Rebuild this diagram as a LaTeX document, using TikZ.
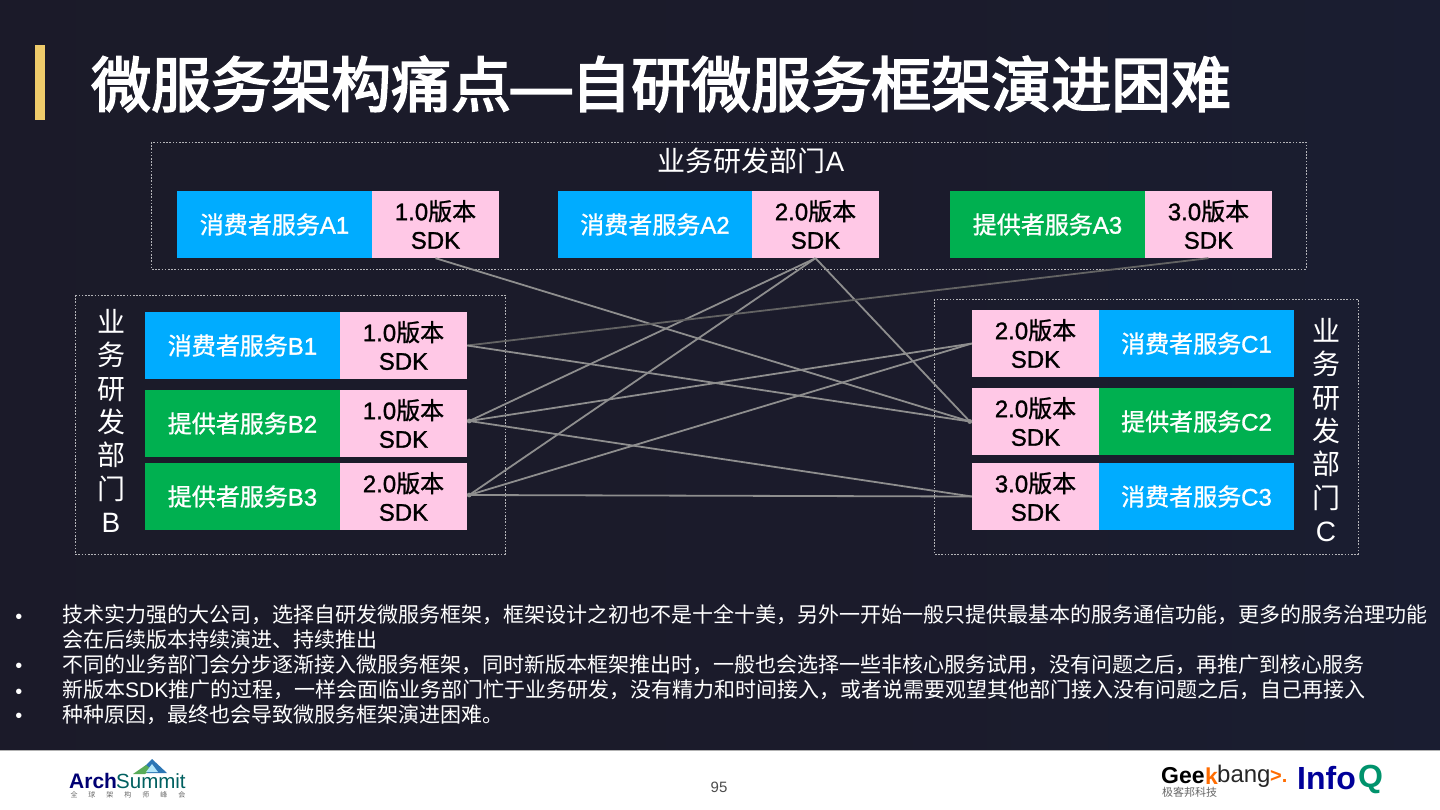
\documentclass[tikz,border=0pt]{standalone}
\usepackage{fontspec}
\setmainfont{Liberation Sans}
\newfontfamily\cjk{Noto Sans CJK SC}
\newfontfamily\cjkm{Noto Sans CJK SC}[FakeBold=3]
\newfontfamily\lattitle{Liberation Sans}[FakeBold=3]
\newfontfamily\cjks{Noto Sans CJK SC}[FakeBold=1]
\newfontfamily\lats{Liberation Sans}[FakeBold=1.2]
\usetikzlibrary{arrows.meta,calc}
\definecolor{bgl}{HTML}{1B1A27}
\definecolor{bgm}{HTML}{1B1B2B}
\definecolor{bgn}{HTML}{1A1D30}
\definecolor{bgr}{HTML}{191C3A}
\definecolor{blueb}{HTML}{00ACFF}
\definecolor{greenb}{HTML}{00B050}
\definecolor{pinkb}{HTML}{FFC8E6}
\definecolor{goldb}{HTML}{EFCB6B}
\definecolor{linec}{HTML}{8E8E8E}
\definecolor{dashc}{HTML}{B4B4B8}
\pgfdeclarehorizontalshading{bgshade}{100bp}{color(0bp)=(bgl); color(55bp)=(bgm); color(72bp)=(bgn); color(100bp)=(bgr)}
\tikzset{
 x=1pt,y=-1pt,
 svc/.style={minimum width=195pt,minimum height=67pt,inner sep=0pt,text=white,font=\fontsize{24}{27}\selectfont\lats},
 svcb/.style={svc,fill=blueb},
 svcg/.style={svc,fill=greenb},
 sdk/.style={minimum width=127pt,minimum height=67pt,inner sep=0pt,fill=pinkb,text=black,align=center,font=\fontsize{24}{28.5}\selectfont\lats},
 group/.style={draw=dashc,line width=0.6pt,dash pattern=on 1.6pt off 1.6pt,inner sep=0pt},
 link/.style={draw=linec,line width=1.8pt},
 faint/.style={link,draw=linec!70!black},
 tip/.style={fill=linec,draw=none},
 gtxt/.style={text=white,inner sep=0pt,font=\fontsize{28}{33.4}\selectfont},
 bullettxt/.style={text=white,anchor=west,inner sep=0pt,font=\fontsize{21}{24}\selectfont},
 bulletdot/.style={text=white,inner sep=0pt,font=\fontsize{20}{20}\selectfont}
}
\newcommand{\zh}[1]{{\cjks #1}}
\newcommand{\zg}[1]{{\cjk #1}}
\begin{document}
\begin{tikzpicture}
\useasboundingbox (0,0) rectangle (1440,810);
\path[shading=bgshade] (0,0) rectangle (1440,750);
\fill[white] (0,750) rectangle (1440,810);
\fill[gray!60] (0,749.5) rectangle (1440,751);
\fill[goldb] (35,45) rectangle (45,120);
\node[anchor=west,text=white,inner sep=0pt,font=\fontsize{60}{66}\selectfont\cjkm] (title) at (91,84) {微服务架构痛点{\lattitle —}自研微服务框架演进困难};

% groups
\path[group] (151,142) rectangle (1306,269);
\path[group] (75,295) rectangle (505,554);
\path[group] (934,299) rectangle (1358,554);
\node[gtxt] (ga) at (751,161) {\zg{业务研发部门}A};
\node[gtxt,align=center] (gb) at (111,421) {\zg{业}\\\zg{务}\\\zg{研}\\\zg{发}\\\zg{部}\\\zg{门}\\B};
\node[gtxt,align=center] (gc) at (1326,430) {\zg{业}\\\zg{务}\\\zg{研}\\\zg{发}\\\zg{部}\\\zg{门}\\C};

% A row
\node[svcb] (a1) at (274.5,224.5) {\zh{消费者服务}A1};
\node[sdk] (sa1) at (435.5,224.5) {1.0\zh{版本}\\SDK};
\node[svcb] (a2) at (655,224.5) {\zh{消费者服务}A2};
\node[sdk] (sa2) at (815.5,224.5) {2.0\zh{版本}\\SDK};
\node[svcg] (a3) at (1047.5,224.5) {\zh{提供者服务}A3};
\node[sdk] (sa3) at (1208.5,224.5) {3.0\zh{版本}\\SDK};
% B column
\node[svcb] (b1) at (242.5,345.5) {\zh{消费者服务}B1};
\node[sdk] (sb1) at (403.5,345.5) {1.0\zh{版本}\\SDK};
\node[svcg] (b2) at (242.5,423.5) {\zh{提供者服务}B2};
\node[sdk] (sb2) at (403.5,423.5) {1.0\zh{版本}\\SDK};
\node[svcg] (b3) at (242.5,496.5) {\zh{提供者服务}B3};
\node[sdk] (sb3) at (403.5,496.5) {2.0\zh{版本}\\SDK};
% C column
\node[sdk] (sc1) at (1035.5,343.5) {2.0\zh{版本}\\SDK};
\node[svcb] (c1) at (1196.5,343.5) {\zh{消费者服务}C1};
\node[sdk] (sc2) at (1035.5,421.5) {2.0\zh{版本}\\SDK};
\node[svcg] (c2) at (1196.5,421.5) {\zh{提供者服务}C2};
\node[sdk] (sc3) at (1035.5,496.5) {3.0\zh{版本}\\SDK};
\node[svcb] (c3) at (1196.5,496.5) {\zh{消费者服务}C3};

% connectors
\coordinate (pb2) at ($(sb2.east)+(2,-2.5)$);
\coordinate (pb3) at ($(sb3.east)+(2,-1.5)$);
\coordinate (pc2) at ($(sc2.west)+(-2,0)$);
\draw[link] (sa1.south) -- (pc2);
\draw[link] (sa2.south) -- (pb2);
\draw[link] (sa2.south) -- (pb3);
\draw[link] (sa2.south) -- (pc2);
\draw[faint] (sa3.south) -- (sb1.east);
\draw[link] (sb1.east) -- (pc2);
\draw[link] (pb2) -- (sc1.west);
\draw[link] (pb2) -- (sc3.west);
\draw[link] (pb3) -- (sc1.west);
\draw[link] (pb3) -- (sc3.west);
\foreach \p in {pb2,pb3,pc2} \fill[tip] (\p) circle (2.4pt);

% bullets
\foreach \y in {619,668,694,718} \node[bulletdot] at (19,\y) {•};
\node[bullettxt] (t1) at (62,615) {\cjk 技术实力强的大公司，选择自研发微服务框架，框架设计之初也不是十全十美，另外一开始一般只提供最基本的服务通信功能，更多的服务治理功能};
\node[bullettxt] (t1b) at (62,640) {\cjk 会在后续版本持续演进、持续推出};
\node[bullettxt] (t2) at (62,665) {\cjk 不同的业务部门会分步逐渐接入微服务框架，同时新版本框架推出时，一般也会选择一些非核心服务试用，没有问题之后，再推广到核心服务};
\node[bullettxt] (t3) at (62,690) {{\cjk 新版本}SDK{\cjk 推广的过程，一样会面临业务部门忙于业务研发，没有精力和时间接入，或者说需要观望其他部门接入没有问题之后，自己再接入}};
\node[bullettxt] (t4) at (62,715) {\cjk 种种原因，最终也会导致微服务框架演进困难。};

% footer
\node[text=black!70,inner sep=0pt,font=\fontsize{15}{18}\selectfont] (pg) at (719,787) {95};
% ArchSummit logo
\fill[cyan!60!blue!85!black] (152,759) -- (138,773) -- (167,773) -- cycle;
\fill[green!50!black!65] (133,774) -- (146,765) -- (151,769) -- (145,774) -- cycle;
\fill[white!70!cyan] (152,764) -- (146,772) -- (158,772) -- cycle;
\node[anchor=west,inner sep=0pt,text=blue!45!black,font=\fontsize{21}{22}\selectfont\bfseries] (arch) at (69,781) {Arch};
\node[anchor=west,inner sep=0pt,text=teal!75!black,font=\fontsize{20.5}{22}\selectfont] (summit) at (116,781) {Summit};
\node[anchor=center,inner sep=0pt,text=black!60,font=\fontsize{7}{8}\selectfont\cjk] (archzh) at (128,795) {全\hspace{11pt}球\hspace{11pt}架\hspace{11pt}构\hspace{11pt}师\hspace{11pt}峰\hspace{11pt}会};
% Geekbang logo
\node[anchor=west,inner sep=0pt,text=black,font=\fontsize{23}{26}\selectfont\bfseries] (geek) at (1161,776) {Gee};
\node[anchor=west,inner sep=0pt,text=orange!85!red,font=\fontsize{23}{26}\selectfont\bfseries] (k) at (1205,776) {k};
\node[anchor=west,inner sep=0pt,text=black!85,font=\fontsize{24}{26}\selectfont] (bang) at (1217,776) {bang};
\node[anchor=west,inner sep=0pt,text=orange!85!red,font=\fontsize{20}{22}\selectfont\bfseries] (gt) at (1270,776) {>.};
\node[anchor=west,inner sep=0pt,text=black!60,font=\fontsize{11}{12}\selectfont\cjk] (gzh) at (1162,792) {极客邦科技};
\node[anchor=west,inner sep=0pt,text=blue!60!black,font=\fontsize{32}{34}\selectfont\bfseries] (info) at (1297,778) {Info};
\node[anchor=west,inner sep=0pt,text=teal!85!green,font=\fontsize{32}{34}\selectfont\bfseries] (q) at (1358,779) {Q};
\end{tikzpicture}
\end{document}
